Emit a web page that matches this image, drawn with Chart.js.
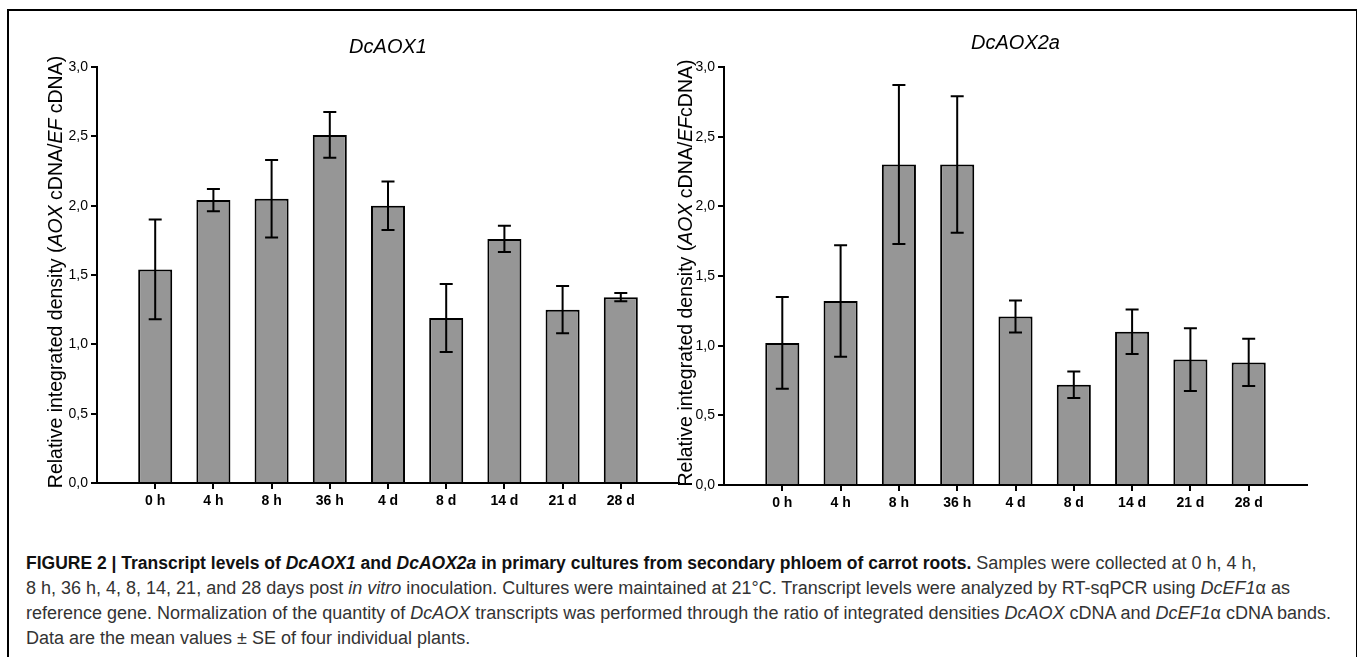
<!DOCTYPE html>
<html>
<head>
<meta charset="utf-8">
<script src="https://cdn.jsdelivr.net/npm/chart.js@4.4.1/dist/chart.umd.min.js"></script>
<style>
  body { margin: 0; background: #fff; width: 1357px; height: 657px; overflow: hidden; position: relative; font-family: "Liberation Sans", Arial, sans-serif; }
  #frame { position: absolute; left: 7px; top: 9px; width: 1347px; height: 700px; border: 2px solid #000; }
  #c1 { position: absolute; left: 0; top: 0; }
  #c2 { position: absolute; left: 665px; top: 0; }
  #cap { position: absolute; left: 26px; top: 551px; font-size: 18px; line-height: 25px; color: #333; white-space: nowrap; }
  #cap b { color: #111; font-size: 17.5px; }
</style>
</head>
<body>
<div id="frame"></div>
<canvas id="c1" width="690" height="530"></canvas>
<canvas id="c2" width="680" height="530"></canvas>
<div id="cap"><b>FIGURE 2 | Transcript levels of <i>DcAOX1</i> and <i>DcAOX2a</i> in primary cultures from secondary phloem of carrot roots.</b> Samples were collected at 0 h, 4 h,<br>8 h, 36 h, 4, 8, 14, 21, and 28 days post <i>in vitro</i> inoculation. Cultures were maintained at 21°C. Transcript levels were analyzed by RT-sqPCR using <i>DcEF1</i>α as<br>reference gene. Normalization of the quantity of <i>DcAOX</i> transcripts was performed through the ratio of integrated densities <i>DcAOX</i> cDNA and <i>DcEF1</i>α cDNA bands.<br>Data are the mean values ± SE of four individual plants.</div>
<script>
// sampling times
const timeLabels = ["0 h", "4 h", "8 h", "36 h", "4 d", "8 d", "14 d", "21 d", "28 d"];

// DcAOX1 means and SE
const aox1Mean = [1.54, 2.04, 2.05, 2.51, 2.00, 1.19, 1.76, 1.25, 1.34];
const aox1SE = [0.36, 0.08, 0.28, 0.165, 0.175, 0.245, 0.095, 0.17, 0.03];

// DcAOX2a means and SE
const aox2aMean = [1.02, 1.32, 2.30, 2.30, 1.21, 0.72, 1.10, 0.90, 0.88];
const aox2aSE = [0.33, 0.40, 0.57, 0.49, 0.115, 0.095, 0.16, 0.225, 0.17];

const yMin = 0;
const yMax = 3;
const yStep = 0.5;

// y axis titles, [text, italic]
const yTitle1 = [["Relative integrated density (", false], ["AOX", true], [" cDNA/", false], ["EF", true], [" cDNA)", false]];
const yTitle2 = [["Relative integrated density (", false], ["AOX", true], [" cDNA/", false], ["EF", true], ["cDNA)", false]];

const FONT = '"Liberation Sans", Arial, sans-serif';

function makeChart(id, title, yTitle, means, ses, lay) {
  // error bars, chart title and y title
  const decor = {
    id: "decor",
    afterDatasetsDraw(chart) {
      const ctx = chart.ctx;
      const y = chart.scales.y;
      const meta = chart.getDatasetMeta(0);
      const data = chart.data.datasets[0].data;
      ctx.save();
      ctx.strokeStyle = "#000";
      ctx.lineWidth = 2;
      meta.data.forEach((bar, i) => {
        const m = data[i];
        const e = ses[i - 1];
        if (m == null || e == null) return;
        const top = y.getPixelForValue(m + e);
        const bot = y.getPixelForValue(m - e);
        ctx.beginPath();
        ctx.moveTo(bar.x, top); ctx.lineTo(bar.x, bot);
        ctx.moveTo(bar.x - 6.5, top); ctx.lineTo(bar.x + 6.5, top);
        ctx.moveTo(bar.x - 6.5, bot); ctx.lineTo(bar.x + 6.5, bot);
        ctx.stroke();
      });
      ctx.restore();
    },
    afterDraw(chart) {
      const ctx = chart.ctx;
      const a = chart.chartArea;
      ctx.save();
      ctx.fillStyle = "#000";
      ctx.font = "italic 20px " + FONT;
      ctx.textAlign = "center";
      ctx.textBaseline = "middle";
      ctx.fillText(title, (a.left + a.right) / 2, lay.titleY);

      ctx.textAlign = "left";
      ctx.textBaseline = "alphabetic";
      const size = 19.5;
      const fontFor = (it) => (it ? "italic " : "") + size + "px " + FONT;
      let w = 0;
      yTitle.forEach(([t, it]) => { ctx.font = fontFor(it); w += ctx.measureText(t).width; });
      ctx.translate(lay.yTitleX, (a.top + a.bottom) / 2 - 3);
      ctx.rotate(-Math.PI / 2);
      let x = -w / 2;
      yTitle.forEach(([t, it]) => {
        ctx.font = fontFor(it);
        ctx.fillText(t, x, 0);
        x += ctx.measureText(t).width;
      });
      ctx.restore();
    }
  };

  return new Chart(document.getElementById(id), {
    type: "bar",
    data: {
      labels: ["", ...timeLabels, ""],
      datasets: [{
        data: [null, ...means, null],
        backgroundColor: "#969696",
        borderColor: "#000",
        borderWidth: 2,
        barPercentage: 1,
        categoryPercentage: 0.585
      }]
    },
    options: {
      responsive: false,
      animation: false,
      layout: { padding: { top: lay.top, right: lay.right, left: 0, bottom: 0 } },
      plugins: { legend: { display: false }, tooltip: { enabled: false }, title: { display: false } },
      scales: {
        x: {
          offset: false,
          border: { color: "#000", width: 2 },
          grid: {
            offset: false,
            drawOnChartArea: false,
            tickLength: 6,
            lineWidth: 2,
            color: (c) => (c.tick && c.tick.label ? "#000" : "rgba(0,0,0,0)")
          },
          ticks: { color: "#000", font: { family: FONT, size: 14, weight: "bold" }, padding: 4, autoSkip: false, maxRotation: 0 },
          afterFit: (s) => { s.height = lay.xHeight; }
        },
        y: {
          min: yMin,
          max: yMax,
          border: { color: "#000", width: 2 },
          grid: { drawOnChartArea: false, tickLength: 6, lineWidth: 2, color: "#000" },
          ticks: {
            stepSize: yStep,
            color: "#000",
            padding: 3,
            font: { family: FONT, size: 14 },
            callback: (v) => v.toFixed(1).replace(".", ",")
          },
          afterFit: (s) => { s.width = lay.yWidth; }
        }
      }
    },
    plugins: [decor]
  });
}

makeChart("c1", "DcAOX1", yTitle1, aox1Mean, aox1SE,
  { top: 67, right: 11, xHeight: 47, yWidth: 97, titleY: 47, yTitleX: 62 });
makeChart("c2", "DcAOX2a", yTitle2, aox2aMean, aox2aSE,
  { top: 67, right: 38, xHeight: 45, yWidth: 59, titleY: 43, yTitleX: 27 });
</script>
</body>
</html>
